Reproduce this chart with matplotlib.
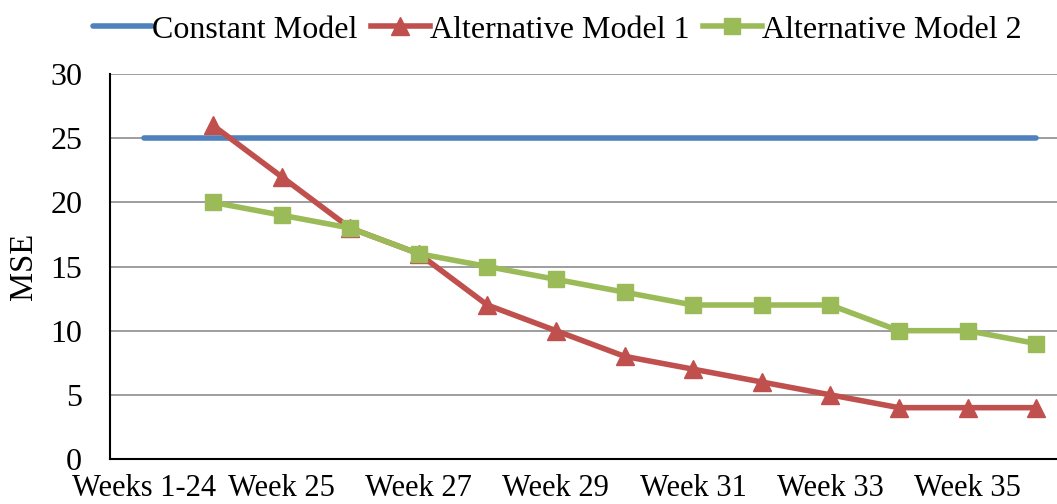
import matplotlib
matplotlib.use("Agg")
import matplotlib.pyplot as plt
import numpy as np

categories = ["Weeks 1-24"] + [f"Week {w}" for w in range(24, 37)]
constant_model = [25] * 14
alt_model_1 = [np.nan, 26, 22, 18, 16, 12, 10, 8, 7, 6, 5, 4, 4, 4]
alt_model_2 = [np.nan, 20, 19, 18, 16, 15, 14, 13, 12, 12, 12, 10, 10, 9]
y_ticks = [0, 5, 10, 15, 20, 25, 30]

plt.rcParams["font.family"] = ["Liberation Serif", "DejaVu Serif"]

W, H = 1057, 504
fig = plt.figure(figsize=(W / 100, H / 100), dpi=100)
ax = fig.add_axes([110 / W, 45 / H, (W - 110) / W, (459 - 74) / H])

x = np.arange(len(categories))
ax.plot(x, constant_model, color="#4F81BD", linewidth=4, label="Constant Model",
        solid_capstyle="round")
ax.plot(x, alt_model_1, color="#C0504D", linewidth=4, marker="^", markersize=13,
        label="Alternative Model 1")
ax.plot(x, alt_model_2, color="#9BBB59", linewidth=4, marker="s", markersize=11,
        label="Alternative Model 2")

spacing = 68.6
ax.set_xlim(-0.5, (W - 110) / spacing - 0.5)
ax.set_ylim(0, 30)
ax.set_yticks(y_ticks)
ax.set_xticks(x[::2])
ax.set_xticklabels(categories[::2])
ax.tick_params(axis="x", labelsize=22, length=0, pad=11)
ax.tick_params(axis="y", labelsize=23, length=0, pad=20)
ax.grid(axis="y", color="#8C8C8C", linewidth=1.2)
ax.set_axisbelow(True)
for side in ["top", "right"]:
    ax.spines[side].set_visible(False)
ax.spines["left"].set_linewidth(1.5)
ax.spines["bottom"].set_linewidth(1.5)

# y label placed by hand so it sits where the original has it
fig.text(24 / W, 1 - 266 / H, "MSE", rotation=90, ha="center", va="center", fontsize=23.5)

fig.legend(loc="center", bbox_to_anchor=(557 / W, 1 - 30 / H), ncol=3, frameon=False,
           fontsize=23, handlelength=1.85, handletextpad=0.0, columnspacing=0.42,
           borderpad=0, borderaxespad=0)

fig.savefig("out.png", dpi=100)
